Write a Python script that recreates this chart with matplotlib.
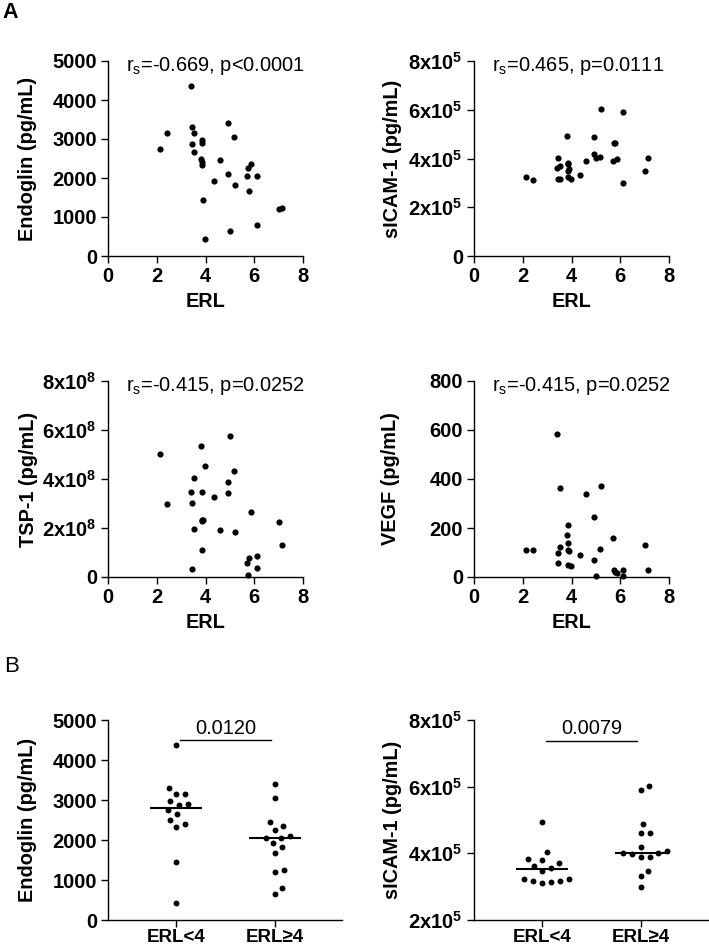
import numpy as np
import matplotlib
matplotlib.use("Agg")
import matplotlib.pyplot as plt

plt.rcParams['font.family'] = ['Liberation Sans', 'DejaVu Sans']
plt.rcParams['mathtext.fontset'] = 'custom'
plt.rcParams['mathtext.rm'] = 'Liberation Sans'
plt.rcParams['mathtext.bf'] = 'Liberation Sans:bold'

# --- data (one entry per patient) ---
erl = [2.12, 2.41, 3.39, 3.43, 3.45, 3.52, 3.52, 3.80, 3.84, 3.84, 3.84, 3.87, 3.91, 3.98,
       4.35, 4.58, 4.91, 4.91, 5.01, 5.16, 5.23, 5.70, 5.75, 5.77, 5.88, 6.11, 6.11, 7.02, 7.15]
endoglin = [2740, 3160, 4370, 2880, 3300, 3150, 2660, 2500, 2980, 2400, 2330, 2900, 1440, 430,
            1920, 2450, 3400, 2090, 650, 3040, 1820, 2060, 2260, 1670, 2350, 2060, 790, 1200, 1240]
sicam = [3.23, 3.11, 3.62, 3.17, 4.03, 3.70, 3.14, 4.93, 3.83, 3.79, 3.48, 3.23, 3.57, 3.17,
         3.32, 3.88, 4.88, 4.20, 4.02, 4.08, 6.03, 3.88, 4.62, 4.62, 3.98, 5.90, 3.00, 3.48, 4.02]  # x10^5
tsp1 = [5.03, 2.96, 3.47, 3.04, 0.34, 4.05, 1.95, 5.33, 1.09, 2.32, 2.30, 3.46, 2.34, 4.55,
        3.27, 1.92, 3.86, 3.41, 5.76, 4.31, 1.85, 0.57, 0.07, 0.78, 2.67, 0.86, 0.38, 2.26, 1.32]  # x10^8
vegf = [110, 110, 584, 59, 99, 362, 124, 173, 213, 110, 50, 140, 105, 44,
        91, 338, 245, 71, 4, 113, 371, 158, 30, 20, 16, 30, 4, 131, 27]

stats_text = ["=-0.669, p<0.0001", "=0.465, p=0.0111", "=-0.415, p=0.0252", "=-0.415, p=0.0252"]
groups = ["ERL<4", "ERL≥4"]
p_values = ["0.0120", "0.0079"]

W, H = 709, 948
fig = plt.figure(figsize=(W / 100, H / 100), dpi=100)

TICK_FS = 14.5
LABEL_FS = 14.3
TEXT_FS = 14.4


def ax_px(left, top, right, bottom):
    return fig.add_axes([left / W, 1 - bottom / H, (right - left) / W, (bottom - top) / H])


def style(ax):
    for s in ["top", "right"]:
        ax.spines[s].set_visible(False)
    for s in ["left", "bottom"]:
        ax.spines[s].set_linewidth(1.0)
    ax.tick_params(direction="out", length=5, width=1.0, labelsize=TICK_FS, pad=3)
    for t in ax.get_xticklabels() + ax.get_yticklabels():
        t.set_fontweight("bold")


def sci_labels(ticks, exp):
    out = []
    for t in ticks:
        out.append("0" if t == 0 else r"$\mathbf{%dx10^{%d}}$" % (t, exp))
    return out


def scatter_panel(ax, y, ymax, ylabel, txt, yticks, ylabels, lab_x):
    ax.scatter(erl, y, s=20, color="black", clip_on=False, zorder=3, linewidths=0)
    ax.set_xlim(0, 8)
    ax.set_ylim(0, ymax)
    ax.set_xticks([0, 2, 4, 6, 8])
    ax.set_yticks(yticks)
    if ylabels is not None:
        ax.set_yticklabels(ylabels)
    ax.set_xlabel("ERL", fontsize=LABEL_FS, fontweight="bold", labelpad=4)
    ax.set_ylabel(ylabel, fontsize=LABEL_FS, fontweight="bold")
    ax.yaxis.set_label_coords(lab_x, 0.5)
    style(ax)
    ax.text(0.092, 0.975, "r$_\\mathrm{s}$" + txt, transform=ax.transAxes, fontsize=TEXT_FS,
            ha="left", va="center")


ax1 = ax_px(108, 61, 303, 256)
scatter_panel(ax1, endoglin, 5000, "Endoglin (pg/mL)", stats_text[0],
              [0, 1000, 2000, 3000, 4000, 5000], None, -0.364)
ax2 = ax_px(474, 61, 669, 256)
scatter_panel(ax2, sicam, 8, "sICAM-1 (pg/mL)", stats_text[1], [0, 2, 4, 6, 8],
              sci_labels([0, 2, 4, 6, 8], 5), -0.369)
ax3 = ax_px(108, 381, 303, 577)
scatter_panel(ax3, tsp1, 8, "TSP-1 (pg/mL)", stats_text[2], [0, 2, 4, 6, 8],
              sci_labels([0, 2, 4, 6, 8], 8), -0.359)
ax4 = ax_px(474, 381, 669, 577)
scatter_panel(ax4, vegf, 800, "VEGF (pg/mL)", stats_text[3], [0, 200, 400, 600, 800], None, -0.379)


# --- panel B: grouped dot plots ---
def swarm(vals, px_y, px_x, gap=9.0):
    vals = np.asarray(vals, float)
    offs = np.zeros(len(vals))
    placed = []
    for i in np.argsort(vals):
        yp = vals[i] * px_y
        best = None
        for k in range(0, 200):
            for sgn in ([0] if k == 0 else [1, -1]):
                xo = sgn * k * 0.5
                if all((xo - a) ** 2 + (yp - b) ** 2 >= gap ** 2 for a, b in placed):
                    best = xo
                    break
            if best is not None:
                break
        placed.append((best, yp))
        offs[i] = best / px_x
    return offs


def group_panel(ax, y, ylim, ylabel, yticks, ylabels, pval, bar_y, px_y, lab_x):
    y = np.asarray(y, float)
    lo = np.array(erl) < 4
    for gi, mask in enumerate([lo, ~lo]):
        v = y[mask]
        xs = gi + swarm(v, px_y, 99.0)
        ax.scatter(xs, v, s=18, color="black", clip_on=False, zorder=3, linewidths=0)
        ax.plot([gi - 0.26, gi + 0.26], [np.median(v)] * 2, color="black", lw=1.5, zorder=2,
                solid_capstyle="butt")
    ax.plot([0.04, 0.96], [bar_y, bar_y], color="black", lw=1)
    ax.text(0.5, bar_y + (ylim[1] - ylim[0]) * 0.012, pval, ha="center", va="bottom", fontsize=TEXT_FS)
    ax.set_xlim(-0.69, 1.68)
    ax.set_ylim(*ylim)
    ax.set_xticks([0, 1])
    ax.set_xticklabels(groups)
    ax.set_yticks(yticks)
    if ylabels is not None:
        ax.set_yticklabels(ylabels)
    ax.set_ylabel(ylabel, fontsize=LABEL_FS, fontweight="bold")
    ax.yaxis.set_label_coords(lab_x, 0.5)
    style(ax)
    ax.tick_params(axis="x", labelsize=13.5, pad=1.5)


ax5 = ax_px(108, 720, 342, 920)
group_panel(ax5, endoglin, (0, 5000), "Endoglin (pg/mL)", [0, 1000, 2000, 3000, 4000, 5000], None,
            p_values[0], 4500, 200 / 5000, -0.303)
ax6 = ax_px(474, 720, 708, 920)
group_panel(ax6, sicam, (2, 8), "sICAM-1 (pg/mL)", [2, 4, 6, 8], sci_labels([2, 4, 6, 8], 5),
            p_values[1], 7.38, 200 / 6, -0.308)

fig.text(2 / W, 1 - 13 / H, "A", fontsize=15.5, fontweight="bold", ha="left", va="center")
fig.text(4 / W, 1 - 667 / H, "B", fontsize=16, ha="left", va="center")

fig.savefig("out.png", dpi=100)
